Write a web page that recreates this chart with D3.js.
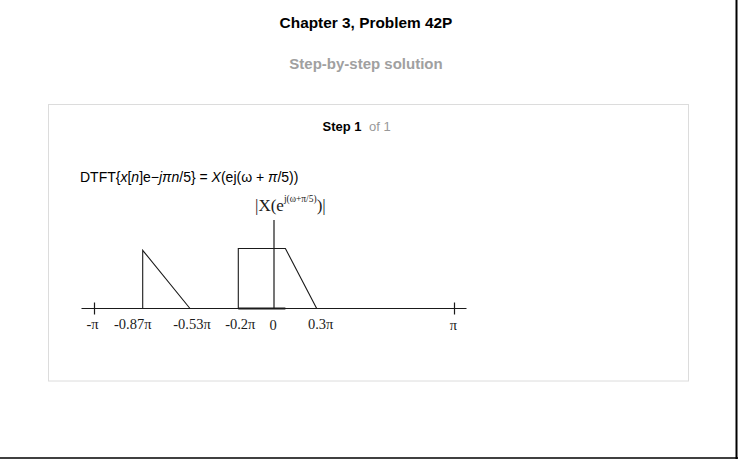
<!DOCTYPE html>
<html>
<head>
<meta charset="utf-8">
<script src="https://cdn.jsdelivr.net/npm/d3@7"></script>
<style>
  html, body { margin: 0; padding: 0; background: #fff; }
  svg { display: block; }
</style>
</head>
<body>
<div id="chart"></div>
<script>
// ---- data ----
const tickValues = [-1, -0.87, -0.53, -0.2, 0, 0.3, 1];        // ω/π
const tickLabels = ["-π", "-0.87π", "-0.53π", "-0.2π", "0", "0.3π", "π"];
const majorTicks = [-1, 1];
// |X(e^{j(ω+π/5)})| outline: triangle lobe and rectangular/trapezoid lobe
const triangleW = [-0.87, -0.87, -0.53];
const triangleA = [0, 0.97, 0];
const trapW = [-0.2, -0.2, 0.08, 0.3];
const trapA = [0, 1, 1, 0];
const baseW = [-0.2, 0.08];
const baseA = [0, 0];

// ---- layout ----
const W = 738, H = 459;
const svg = d3.select("#chart").append("svg").attr("width", W).attr("height", H);
const sans = "'Liberation Sans', Arial, sans-serif";
const serif = "'Liberation Serif', 'Times New Roman', serif";

// page frame (right & bottom edge)
svg.append("line").attr("x1", W - 1.5).attr("x2", W - 1.5).attr("y1", 0).attr("y2", H).attr("stroke", "#000").attr("stroke-width", 2);
svg.append("line").attr("x1", 0).attr("x2", W).attr("y1", H - 1).attr("y2", H - 1).attr("stroke", "#000").attr("stroke-width", 1.5);

svg.append("text").attr("x", 366).attr("y", 27.5).attr("text-anchor", "middle")
  .attr("font-family", sans).attr("font-weight", "bold").attr("font-size", 15.4).attr("fill", "#000")
  .text("Chapter 3, Problem 42P");
svg.append("text").attr("x", 366).attr("y", 68.5).attr("text-anchor", "middle")
  .attr("font-family", sans).attr("font-weight", "bold").attr("font-size", 15).attr("fill", "#a0a0a0")
  .text("Step-by-step solution");

// card
svg.append("rect").attr("x", 48.5).attr("y", 104.5).attr("width", 640).attr("height", 276.5)
  .attr("fill", "#fff").attr("stroke", "#dcdcdc").attr("stroke-width", 1);

const step = svg.append("text").attr("y", 130.5).attr("font-family", sans).attr("font-size", 13);
step.append("tspan").attr("x", 322.5).attr("font-weight", "bold").attr("fill", "#000").text("Step 1");
step.append("tspan").attr("x", 369).attr("fill", "#999").text("of 1");

// formula line
const f = svg.append("text").attr("x", 80).attr("y", 182).attr("font-family", sans).attr("font-size", 14).attr("fill", "#000");
const parts = [["DTFT{", 0], ["x", 1], ["[", 0], ["n", 1], ["]e−", 0], ["jπn", 1], ["/5} = ", 0], ["X", 1], ["(ej(ω + ", 0], ["π", 1], ["/5))", 0]];
parts.forEach(([t, it]) => f.append("tspan").attr("font-style", it ? "italic" : "normal").text(t));

// ---- plot ----
const x = d3.scaleLinear().domain(tickValues).range([94.5, 142.7, 190, 238.3, 274, 316.7, 454.5]);
const y = d3.scaleLinear().domain([0, 1]).range([308.5, 248.5]);
const ink = "#1a1a1a";

// horizontal axis
svg.append("line").attr("x1", 81.5).attr("x2", 466.5).attr("y1", y(0)).attr("y2", y(0)).attr("stroke", ink).attr("stroke-width", 1.2);
svg.selectAll(".major").data(majorTicks).join("line")
  .attr("x1", d => x(d)).attr("x2", d => x(d)).attr("y1", y(0) - 6).attr("y2", y(0) + 6)
  .attr("stroke", ink).attr("stroke-width", 1.2);
// vertical axis
svg.append("line").attr("x1", x(0)).attr("x2", x(0)).attr("y1", 220).attr("y2", y(0)).attr("stroke", ink).attr("stroke-width", 1.2);

const line = d3.line().x(d => x(d[0])).y(d => y(d[1]));
const shapes = [d3.zip(triangleW, triangleA), d3.zip(trapW, trapA)];
svg.selectAll(".shape").data(shapes).join("path")
  .attr("d", line).attr("fill", "none").attr("stroke", ink).attr("stroke-width", 1.1);
svg.append("path").datum(d3.zip(baseW, baseA)).attr("d", line)
  .attr("fill", "none").attr("stroke", ink).attr("stroke-width", 2);

// tick labels (label nudges for visual alignment)
const labelDx = [-2, -10, 2, 2, -1, 4, -1];
const labelDy = [0, 0, 0, 0, 1.5, 0, 1];
svg.selectAll(".tl").data(tickValues).join("text")
  .attr("x", (d, i) => x(d) + labelDx[i]).attr("y", (d, i) => 328.5 + labelDy[i])
  .attr("text-anchor", "middle").attr("font-family", serif).attr("font-size", 14.5).attr("fill", ink)
  .text((d, i) => tickLabels[i]);

// vertical axis label |X(e^{j(ω+π/5)})|
const yl = svg.append("text").attr("x", 255).attr("y", 210.5).attr("font-family", serif).attr("font-size", 17).attr("fill", ink);
yl.append("tspan").text("|X(e");
yl.append("tspan").attr("font-size", 9.5).attr("dy", -9).text("j(ω+π/5)");
yl.append("tspan").attr("dy", 9).text(")|");
</script>
</body>
</html>
